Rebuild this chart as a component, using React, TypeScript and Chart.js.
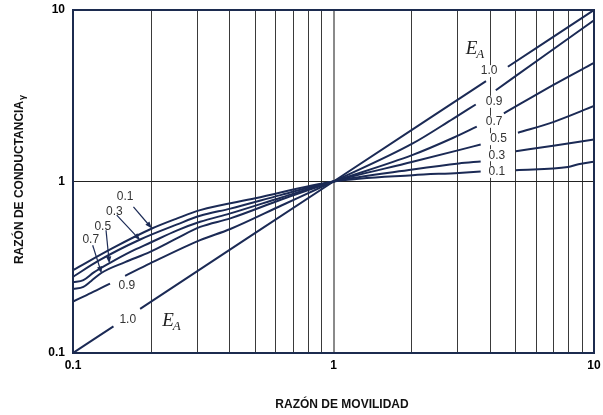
import React, { useEffect, useRef } from "react";
import { Chart, registerables } from "chart.js";

Chart.register(...registerables);

const FONT = "'Liberation Sans', Arial, Helvetica, sans-serif";
const SERIF = "'Liberation Serif', 'DejaVu Serif', serif";
const LINE = "#1b2a55";

const xTickValues = [0.1, 0.2, 0.3, 0.4, 0.5, 0.6, 0.7, 0.8, 0.9, 1, 2, 3, 4, 5, 6, 7, 8, 9, 10];
const yTickValues = [0.1, 1, 10];
const shownTickLabels = ["0.1", "1", "10"];

// E_A = 1.0
const ea10X = [0.1, 0.143, 0.16, 0.181, 1, 3.85, 4.2, 4.67, 10];
const ea10Y = [0.1, 0.143, null, 0.181, 1, 3.85, null, 4.67, 10];
// E_A = 0.9
const ea09X = [0.1, 0.1175, 0.1387, 0.148, 0.1585, 0.1977, 0.3076, 0.4018, 0.631, 1, 2.014, 2.884, 3.516, 3.85, 4.198, 6.457, 10];
const ea09Y = [0.1995, 0.2239, 0.2541, null, 0.2818, 0.3327, 0.455, 0.5284, 0.7244, 1, 1.667, 2.328, 2.812, null, 3.404, 5.433, 8.71];
// E_A = 0.7
const ea07X = [0.1, 0.1096, 0.1175, 0.1288, 0.1585, 0.1977, 0.2512, 0.3076, 0.4018, 0.631, 1, 2.014, 2.884, 3.548, 4.0, 4.508, 7.015, 10];
const ea07Y = [0.236, 0.2427, 0.263, 0.2938, 0.3388, 0.389, 0.4677, 0.5433, 0.6095, 0.7852, 1, 1.429, 1.799, 2.089, null, 2.495, 3.673, 4.92];
// E_A = 0.5
const ea05X = [0.1, 0.1096, 0.1202, 0.1387, 0.166, 0.1977, 0.2512, 0.3076, 0.4018, 0.631, 1, 2.014, 3.027, 3.673, 4.4, 5.105, 7.015, 10];
const ea05Y = [0.2582, 0.2661, 0.2951, 0.3357, 0.389, 0.4395, 0.5188, 0.5821, 0.6516, 0.8072, 1, 1.303, 1.524, 1.644, null, 1.923, 2.228, 2.754];
// E_A = 0.3
const ea03X = [0.1, 0.1259, 0.1811, 0.2512, 0.3076, 0.4018, 0.631, 1, 2.014, 3.027, 3.673, 4.4, 5.012, 7.079, 10];
const ea03Y = [0.278, 0.3467, 0.4592, 0.5623, 0.631, 0.695, 0.8356, 1, 1.175, 1.274, 1.309, null, 1.503, 1.622, 1.758];
// E_A = 0.1
const ea01X = [0.1, 0.1413, 0.2009, 0.2512, 0.3076, 0.5012, 1, 2.014, 3.027, 3.673, 4.4, 5.012, 7.943, 8.71, 10];
const ea01Y = [0.3041, 0.4074, 0.5321, 0.6095, 0.6808, 0.798, 1, 1.089, 1.122, 1.143, null, 1.164, 1.216, 1.259, 1.303];

const seriesNames = ["1.0", "0.9", "0.7", "0.5", "0.3", "0.1"];
const seriesX = [ea10X, ea09X, ea07X, ea05X, ea03X, ea01X];
const seriesY = [ea10Y, ea09Y, ea07Y, ea05Y, ea03Y, ea01Y];

// curve labels (data coordinates)
const labelTexts = ["0.1", "0.3", "0.5", "0.7", "0.9", "1.0", "1.0", "0.9", "0.7", "0.5", "0.3", "0.1"];
const labelX = [0.1585, 0.1442, 0.1301, 0.117, 0.1609, 0.1622, 3.956, 4.136, 4.136, 4.3, 4.236, 4.236];
const labelY = [0.814, 0.666, 0.5487, 0.459, 0.2466, 0.1567, 4.4, 2.915, 2.229, 1.765, 1.423, 1.139];

// leader arrows for left labels
const arrowFromX = [0.1706, 0.1472, 0.1339, 0.119];
const arrowFromY = [0.712, 0.636, 0.52, 0.425];
const arrowToX = [0.2009, 0.1811, 0.1379, 0.1288];
const arrowToY = [0.532, 0.455, 0.3325, 0.291];

// E_A labels (left baseline of "E")
const eaLabelX = [0.22, 3.219];
const eaLabelY = [0.1446, 5.576];

const xTitle = "RAZÓN DE MOVILIDAD";
const yTitle = "RAZÓN DE CONDUCTANCIA";
const yTitleSub = "γ";

const overlay = {
  id: "overlay",
  beforeDatasetsDraw(chart: any) {
    const { ctx, scales } = chart;
    const xs = scales.x;
    const ys = scales.y;
    ctx.save();
    ctx.font = `12px ${FONT}`;
    ctx.textAlign = "center";
    ctx.textBaseline = "middle";
    labelTexts.forEach((t, i) => {
      const px = xs.getPixelForValue(labelX[i]);
      const py = ys.getPixelForValue(labelY[i]);
      const w = ctx.measureText(t).width;
      ctx.fillStyle = "#ffffff";
      ctx.fillRect(px - w / 2 - 1, py - 6, w + 2, 12);
      ctx.fillStyle = "#333333";
      ctx.fillText(t, px, py);
    });
    ctx.restore();
  },
  afterDraw(chart: any) {
    const { ctx, scales, chartArea } = chart;
    const xs = scales.x;
    const ys = scales.y;
    ctx.save();
    // arrows
    ctx.strokeStyle = LINE;
    ctx.fillStyle = LINE;
    ctx.lineWidth = 1.2;
    arrowFromX.forEach((fx, i) => {
      const x1 = xs.getPixelForValue(fx);
      const y1 = ys.getPixelForValue(arrowFromY[i]);
      const x2 = xs.getPixelForValue(arrowToX[i]);
      const y2 = ys.getPixelForValue(arrowToY[i]);
      const a = Math.atan2(y2 - y1, x2 - x1);
      const L = 7;
      const W = 2.6;
      ctx.beginPath();
      ctx.moveTo(x1, y1);
      ctx.lineTo(x2 - Math.cos(a) * L * 0.8, y2 - Math.sin(a) * L * 0.8);
      ctx.stroke();
      ctx.beginPath();
      ctx.moveTo(x2, y2);
      ctx.lineTo(x2 - Math.cos(a) * L - Math.sin(a) * W, y2 - Math.sin(a) * L + Math.cos(a) * W);
      ctx.lineTo(x2 - Math.cos(a) * L + Math.sin(a) * W, y2 - Math.sin(a) * L - Math.cos(a) * W);
      ctx.closePath();
      ctx.fill();
    });
    // E_A
    ctx.fillStyle = "#222222";
    ctx.textAlign = "left";
    ctx.textBaseline = "alphabetic";
    eaLabelX.forEach((ex, i) => {
      const px = xs.getPixelForValue(ex);
      const py = ys.getPixelForValue(eaLabelY[i]);
      ctx.font = `italic 19px ${SERIF}`;
      ctx.fillText("E", px, py);
      const w = ctx.measureText("E").width;
      ctx.font = `italic 13px ${SERIF}`;
      ctx.fillText("A", px + w - 1, py + 4);
    });
    // border
    ctx.strokeStyle = "#1c2b4f";
    ctx.lineWidth = 2;
    ctx.strokeRect(chartArea.left, chartArea.top, chartArea.right - chartArea.left, chartArea.bottom - chartArea.top);
    // x title
    ctx.fillStyle = "#111111";
    ctx.font = `bold 12px ${FONT}`;
    ctx.textAlign = "center";
    ctx.textBaseline = "middle";
    ctx.fillText(xTitle, 342, 405);
    // y title
    ctx.translate(20, 180);
    ctx.rotate(-Math.PI / 2);
    ctx.font = `bold 12px ${FONT}`;
    const w1 = ctx.measureText(yTitle).width;
    ctx.font = `bold 9px ${FONT}`;
    const w2 = ctx.measureText(yTitleSub).width;
    const start = -(w1 + w2) / 2;
    ctx.textAlign = "left";
    ctx.textBaseline = "middle";
    ctx.font = `bold 12px ${FONT}`;
    ctx.fillText(yTitle, start, 0);
    ctx.font = `bold 9px ${FONT}`;
    ctx.fillText(yTitleSub, start + w1 + 1, 3);
    ctx.restore();
  },
};

export default function App() {
  const canvasRef = useRef<HTMLCanvasElement | null>(null);

  useEffect(() => {
    if (!canvasRef.current) return;
    const datasets = seriesNames.map((name, si) => ({
      label: name,
      data: seriesX[si].map((x, i) => ({ x, y: seriesY[si][i] })),
      borderColor: LINE,
      borderWidth: 2,
      pointRadius: 0,
      fill: false,
      spanGaps: false,
      cubicInterpolationMode: "monotone" as const,
    }));
    const chart = new Chart(canvasRef.current, {
      type: "line",
      data: { datasets: datasets as any },
      plugins: [overlay],
      options: {
        animation: false,
        responsive: false,
        layout: { padding: { top: 10, right: 9, left: 0, bottom: 0 } },
        plugins: { legend: { display: false }, tooltip: { enabled: false } },
        scales: {
          x: {
            type: "logarithmic",
            min: 0.1,
            max: 10,
            afterBuildTicks: (s: any) => {
              s.ticks = xTickValues.map((v) => ({ value: v }));
            },
            afterFit: (s: any) => {
              s.height = 62;
            },
            border: { display: false },
            grid: {
              drawTicks: true,
              tickLength: 5,
              tickColor: "rgba(0,0,0,0)",
              color: (c: any) => (c.tick && c.tick.value === 1 ? "#8a8a8a" : "#3a3a3a"),
              lineWidth: (c: any) => (c.tick && c.tick.value === 1 ? 2 : 1),
            },
            ticks: {
              autoSkip: false,
              maxRotation: 0,
              padding: 0,
              color: "#000000",
              font: { family: FONT, size: 12, weight: "bold" },
              callback: (v: any) => {
                const s = String(Number(v));
                return shownTickLabels.includes(s) ? s : "";
              },
            },
          },
          y: {
            type: "logarithmic",
            min: 0.1,
            max: 10,
            afterBuildTicks: (s: any) => {
              s.ticks = yTickValues.map((v) => ({ value: v }));
            },
            afterFit: (s: any) => {
              s.width = 73;
            },
            border: { display: false },
            grid: {
              drawTicks: true,
              tickLength: 8,
              tickColor: "rgba(0,0,0,0)",
              color: (c: any) => (c.tick && c.tick.value === 1 ? "#222222" : "rgba(0,0,0,0)"),
              lineWidth: 1,
            },
            ticks: {
              padding: 0,
              color: "#000000",
              font: { family: FONT, size: 12, weight: "bold" },
              callback: (v: any) => {
                const s = String(Number(v));
                return shownTickLabels.includes(s) ? s : "";
              },
            },
          },
        },
      },
    });
    return () => chart.destroy();
  }, []);

  return (
    <div style={{ position: "absolute", left: 0, top: 0, width: 603, height: 415, background: "#ffffff" }}>
      <canvas ref={canvasRef} width={603} height={415} />
    </div>
  );
}
